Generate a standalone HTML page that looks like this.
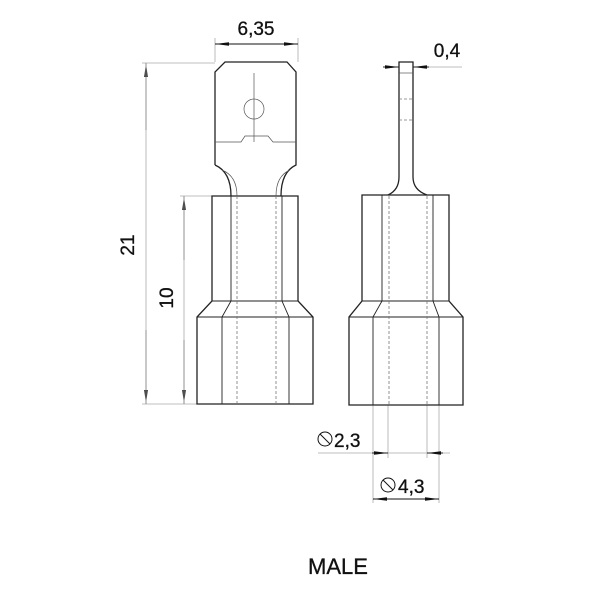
<!DOCTYPE html>
<html><head><meta charset="utf-8"><style>
html,body{margin:0;padding:0;background:#fff;width:600px;height:600px;overflow:hidden}
svg{display:block}
text{font-family:"Liberation Sans",sans-serif;fill:#111}
</style></head><body>
<svg width="600" height="600" viewBox="0 0 600 600" xmlns="http://www.w3.org/2000/svg">
<defs>
<marker id="a" markerWidth="14" markerHeight="6" refX="14" refY="3" orient="auto" markerUnits="userSpaceOnUse"><path d="M0,1.2 L14,3 L0,4.8 Z" fill="#111"/></marker>
</defs>
<g fill="none" stroke="#aaa" stroke-width="0.8">
<line x1="142" y1="63" x2="215" y2="63"/>
<line x1="142" y1="404" x2="200" y2="404"/>
<line x1="180" y1="196" x2="213" y2="196"/>
<line x1="215" y1="38" x2="215" y2="62"/>
<line x1="298" y1="38" x2="298" y2="62"/>
<line x1="413" y1="67" x2="462" y2="67"/>
<line x1="318" y1="453" x2="450" y2="453"/>
<line x1="388" y1="405" x2="388" y2="458"/>
<line x1="427" y1="405" x2="427" y2="458"/>
<line x1="373" y1="405" x2="373" y2="503"/>
<line x1="439" y1="405" x2="439" y2="503"/>
</g>
<g fill="none" stroke="#111" stroke-width="0.9">
<line x1="146" y1="130" x2="146" y2="63" marker-end="url(#a)"/>
<line x1="146" y1="330" x2="146" y2="404" marker-end="url(#a)"/>
<line x1="184" y1="260" x2="184" y2="196" marker-end="url(#a)"/>
<line x1="184" y1="340" x2="184" y2="404" marker-end="url(#a)"/>
<line x1="146" y1="63" x2="146" y2="404" stroke="#aaa" stroke-width="0.8"/>
<line x1="184" y1="196" x2="184" y2="404" stroke="#aaa" stroke-width="0.8"/>
<line x1="256" y1="44" x2="215" y2="44" marker-end="url(#a)"/>
<line x1="256" y1="44" x2="298" y2="44" marker-end="url(#a)"/>
<line x1="383" y1="67" x2="399" y2="67" marker-end="url(#a)"/>
<line x1="429" y1="67" x2="413" y2="67" marker-end="url(#a)"/>
<line x1="372" y1="453" x2="388" y2="453" marker-end="url(#a)"/>
<line x1="443" y1="453" x2="427" y2="453" marker-end="url(#a)"/>
<line x1="406" y1="499" x2="373" y2="499" marker-end="url(#a)"/>
<line x1="406" y1="499" x2="439" y2="499" marker-end="url(#a)"/>
</g>
<g fill="none" stroke="#222" stroke-width="1.3">
<path d="M215,165 L215,72 L225,62 L287,62 L296,72 L296,165 Q281,172 281,196"/>
<path d="M215,165 Q231,172 231,196"/>
<path d="M212,196 L298,196 L298,301 L313,317 L313,404 L197,404 L197,317 L212,301 Z"/>
<path d="M212,301 L298,301" stroke-width="1"/>
<path d="M231,196 L231,301 L222,317 L222,404 M282,196 L282,301 L289,317 L289,404 M197,317 L313,317" stroke-width="0.9"/>
<path d="M399,177 L399,62 L413,62 L413,177 Q413,190 427,195 M399,177 Q399,190 388,195"/>
<path d="M362,195 L449,195 L449,301 L463,317 L463,405 L349,405 L349,317 L362,301 Z"/>
<path d="M362,301 L449,301 M349,317 L463,317" stroke-width="1"/>
<path d="M382,195 L382,301 L373,317 L373,405 M433,195 L433,301 L439,317 L439,405" stroke-width="0.9"/>
</g>
<g fill="none" stroke="#555" stroke-width="0.7">
<line x1="254" y1="73" x2="254" y2="142"/>
<circle cx="254" cy="109" r="10"/>
<path d="M215,142 L241,142 L245,136 L268,136 L273,142 L296,142"/>
<line x1="399" y1="73" x2="413" y2="73"/>
<path d="M222,170 Q237,176 237,196 M290,170 Q276,176 276,196"/>
</g>
<g fill="none" stroke="#777" stroke-width="0.8" stroke-dasharray="3,2">
<line x1="237" y1="196" x2="237" y2="404"/>
<line x1="276" y1="196" x2="276" y2="404"/>
<line x1="389" y1="196" x2="389" y2="405"/>
<line x1="427" y1="196" x2="427" y2="405"/>
<line x1="399" y1="99" x2="413" y2="99"/>
<line x1="399" y1="120" x2="413" y2="120"/>
</g>
<g font-size="19" stroke="#111" stroke-width="0.3">
<text x="256" y="35" text-anchor="middle">6,35</text>
<text x="447" y="57" text-anchor="middle">0,4</text>
<text transform="translate(134,245) rotate(-90)" text-anchor="middle">21</text>
<text transform="translate(173,298) rotate(-90)" text-anchor="middle">10</text>
<text x="334" y="447">2,3</text>
<text x="398" y="493">4,3</text>
<text x="338" y="574" text-anchor="middle" font-size="22">MALE</text>
</g>
<g fill="none" stroke="#111" stroke-width="1">
<circle cx="325" cy="439" r="7"/><line x1="320" y1="434" x2="330" y2="444"/>
<circle cx="388" cy="485" r="7"/><line x1="383" y1="480" x2="393" y2="490"/>
</g>
</svg>
</body></html>
